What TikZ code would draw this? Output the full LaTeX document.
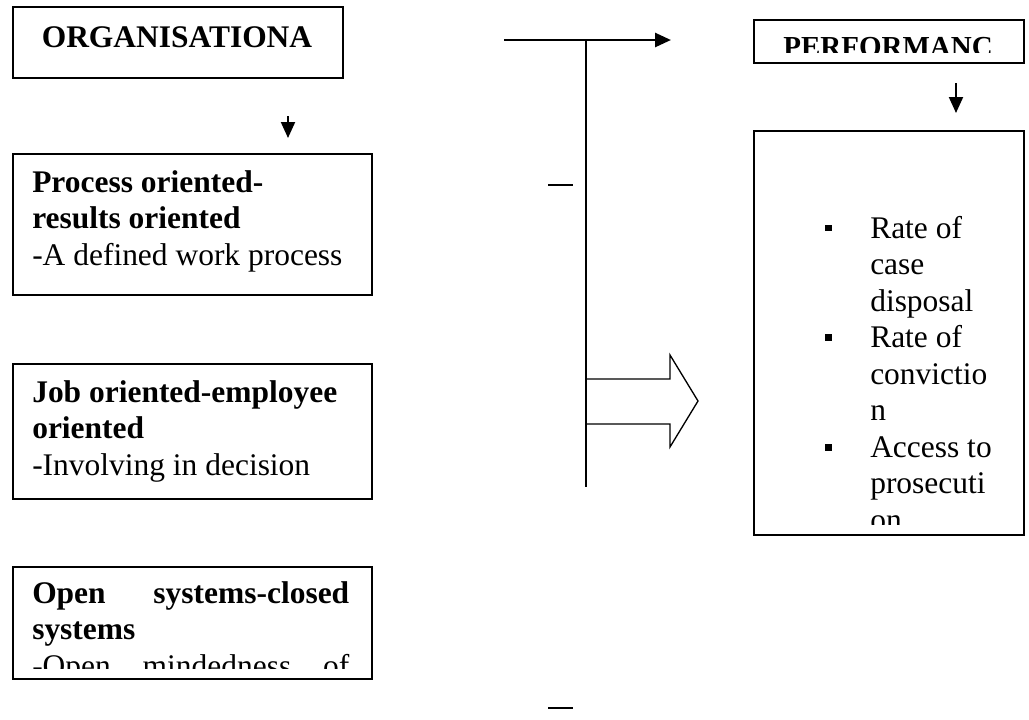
\documentclass[tikz,border=0pt]{standalone}
\usepackage{fontspec}
\setmainfont{Liberation Serif}
\usetikzlibrary{arrows.meta}

\newcommand\boxfont{\fontsize{23.6}{27.4}\selectfont}
\newcommand\bul{\makebox[33.75pt][l]{\rule[4.9pt]{5.2pt}{5.2pt}}}
\newcommand\bgap{\hspace*{33.75pt}}

\begin{document}
\begin{tikzpicture}[x=0.75pt,y=0.75pt,yscale=-1,xscale=1,
  frame/.style={draw, line width=1.4pt, inner sep=0pt, anchor=north west},
  txt/.style={anchor=base west, inner sep=0pt},
  arr/.style={line width=1.5pt, -{Triangle[length=12pt,width=10.5pt]}}]
%set diagram size 1029 x 719
\useasboundingbox (0,0) rectangle (1029,719);

% Shape: Rectangle
\node [frame, minimum width=247.5pt, minimum height=53.25pt] (org) at (12,6) {};
% Text Node
\node [anchor=base, inner sep=0pt] (orgtxt) at (177,47) {\boxfont\bfseries ORGANISATIONA};

% Shape: Rectangle
\node [frame, minimum width=269.25pt, minimum height=105.75pt] (proc) at (12,153) {};
% Text Node
\node [txt] (proctxt) at (32,192) {\parbox[t]{250pt}{\boxfont\bfseries Process oriented-\\results oriented\\\mdseries -A defined work process}};

% Shape: Rectangle
\node [frame, minimum width=269.25pt, minimum height=101.25pt] (job) at (12,363) {};
% Text Node
\node [txt] (jobtxt) at (32,402) {\parbox[t]{250pt}{\boxfont\bfseries Job oriented-employee\\oriented\\\mdseries -Involving in decision}};

% Shape: Rectangle
\node [frame, minimum width=269.25pt, minimum height=84pt] (open) at (12,566) {};
% Text Node
\begin{scope}
\clip (12,566) rectangle (371,668);
\node [txt] (opentxt) at (32,603) {\parbox[t]{237.75pt}{\boxfont\bfseries Open\hfill systems-closed\\systems\\\mdseries -Open\hfill mindedness\hfill of}};
\end{scope}

% Shape: Rectangle
\node [frame, minimum width=202.5pt, minimum height=32.25pt] (perf) at (753,19) {};
% Text Node
\begin{scope}
\clip (753,19) rectangle (1023,52);
\node [anchor=base, inner sep=0pt] (perftxt) at (888,56) {\fontsize{21.75}{25}\selectfont\bfseries PERFORMANC};
\end{scope}

% Shape: Rectangle
\node [frame, minimum width=202.5pt, minimum height=303pt] (ind) at (753,130) {};
% Text Node
\begin{scope}
\clip (753,130) rectangle (1023,524);
\node [txt] (indtxt) at (825,238) {\parbox[t]{180pt}{\boxfont
\bul Rate of\\ \bgap case\\ \bgap disposal\\
\bul Rate of\\ \bgap convictio\\ \bgap n\\
\bul Access to\\ \bgap prosecuti\\ \bgap on}};
\end{scope}

% Connection
\coordinate (orgA) at (288,116);
\coordinate (orgB) at (288,138);
\draw [arr] (orgA) -- (orgB);
% Connection
\coordinate (perfA) at (956,83);
\coordinate (perfB) at (956,113);
\draw [arr] (perfA) -- (perfB);
% Connection
\coordinate (topL) at (504,40);
\coordinate (topR) at (671,40);
\draw [arr, line width=2pt] (topL) -- (topR);

% Block Arrow
\draw [line width=1pt, fill=white] (586,379) -- (670,379) -- (670,355) -- (698,401) -- (670,447) -- (670,424) -- (586,424);
% Connection
\coordinate (stemT) at (586,40);
\coordinate (stemB) at (586,487);
\draw [line width=1.1pt] (stemT) -- (stemB);

% Dashes
\draw [line width=0.9pt] (548,185) -- (573,185);
\draw [line width=1.5pt] (548,708) -- (573,708);

\end{tikzpicture}
\end{document}
